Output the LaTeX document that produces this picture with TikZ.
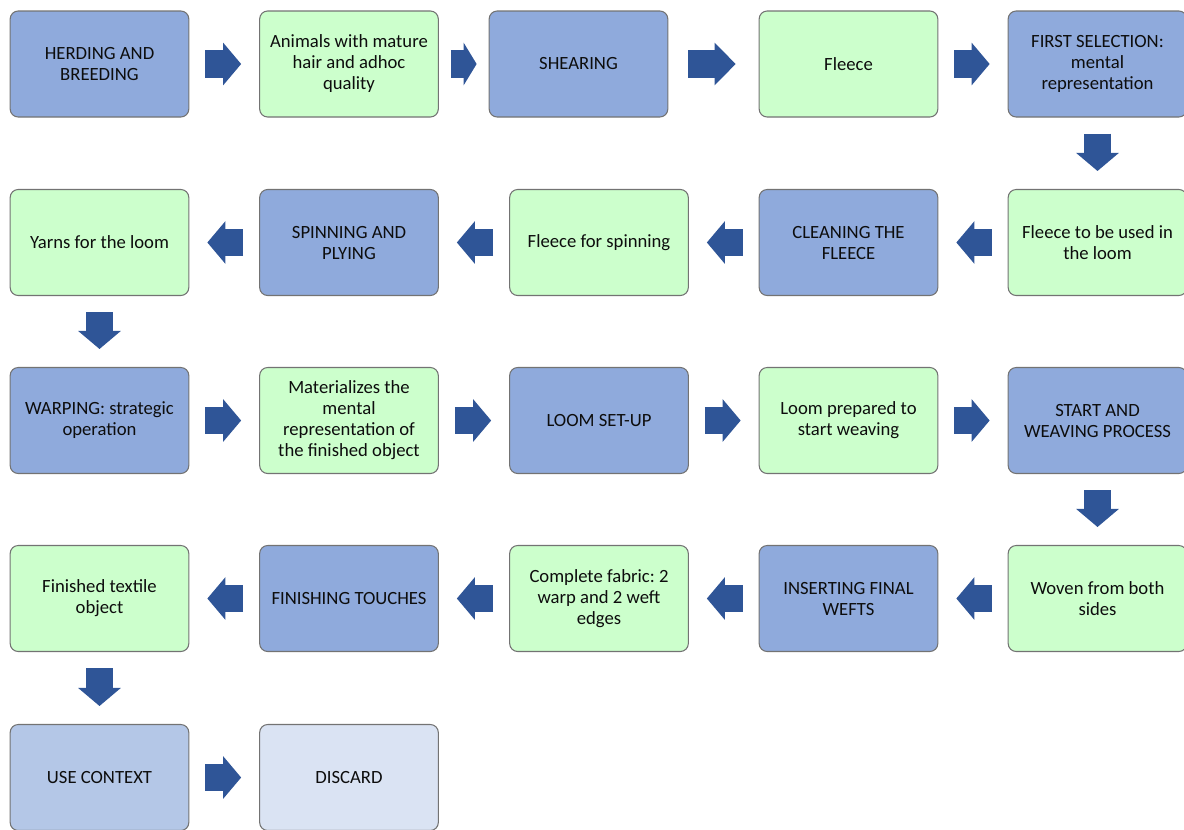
\documentclass[tikz,border=0pt]{standalone}
\usepackage{fontspec}
\setmainfont{Carlito}
\usetikzlibrary{arrows.meta}
\frenchspacing

\definecolor{stageblue}{HTML}{8FAADC}
\definecolor{productgreen}{HTML}{CCFFCC}
\definecolor{contextblue}{HTML}{B4C7E7}
\definecolor{discardblue}{HTML}{DAE3F3}
\definecolor{flowblue}{HTML}{2F5597}

\begin{document}
\begin{tikzpicture}[x=0.75pt, y=-0.75pt,
  box/.style={draw=black!55, line width=0.8pt, rounded corners=6pt,
    minimum width=134pt, minimum height=79.5pt, inner sep=2pt, align=center,
    font=\fontsize{14}{15.75}\selectfont, text=black!95},
  stage/.style={box, fill=stageblue},
  product/.style={box, fill=productgreen},
  flow/.style={draw=flowblue, line width=20.5pt,
    -{Triangle[length=13.5pt, width=32pt, line width=0pt]},
    shorten <=12pt, shorten >=13.5pt}]

  \useasboundingbox (0,0) rectangle (1184,829);

  % Row 1: from the herd to the first selection
  \node[stage]   (herding)   at (99.5, 64)   {HERDING AND\\BREEDING};
  \node[product] (animals)   at (349, 64)    {Animals with mature\\hair and adhoc\\quality};
  \node[stage]   (shearing)  at (578.5, 64)  {SHEARING};
  \node[product] (fleece)    at (848.5, 64)  {Fleece};
  \node[stage]   (selection) at (1097.5, 64) {FIRST SELECTION:\\mental\\representation};

  % Row 2: cleaning and spinning (right to left)
  \node[product] (fleeceloom) at (1097.5, 242.5) {Fleece to be used in\\the loom};
  \node[stage]   (cleaning)   at (848.5, 242.5)  {CLEANING THE\\FLEECE};
  \node[product] (fleecespin) at (599, 242.5)    {Fleece for spinning};
  \node[stage]   (spinning)   at (349, 242.5)    {SPINNING AND\\PLYING};
  \node[product] (yarns)      at (99.5, 242.5)   {Yarns for the loom};

  % Row 3: warping and loom set-up
  \node[stage]   (warping)      at (99.5, 420.5)   {WARPING: strategic\\operation};
  \node[product] (materializes) at (349, 420.5)    {Materializes the\\mental\\representation of\\the finished object};
  \node[stage]   (loomsetup)    at (599, 420.5)    {LOOM SET-UP};
  \node[product] (loomready)    at (848.5, 420.5)  {Loom prepared to\\start weaving};
  \node[stage]   (weaving)      at (1097.5, 420.5) {START AND\\WEAVING PROCESS};

  % Row 4: weaving to the finished object (right to left)
  \node[product] (woven)     at (1097.5, 598.5) {Woven from both\\sides};
  \node[stage]   (wefts)     at (848.5, 598.5)  {INSERTING FINAL\\WEFTS};
  \node[product] (fabric)    at (599, 598.5)    {Complete fabric: 2\\warp and 2 weft\\edges};
  \node[stage]   (finishing) at (349, 598.5)    {FINISHING TOUCHES};
  \node[product] (finished)  at (99.5, 598.5)   {Finished textile\\object};

  % Row 5: use and discard
  \node[box, fill=contextblue] (usecontext) at (99.5, 777.5) {USE CONTEXT};
  \node[box, fill=discardblue] (discard)    at (349, 777.5)  {DISCARD};

  % Block arrows
  \draw[flow] (herding) -- (animals);
  \draw[flow, shorten <=9pt, shorten >=9pt,
    -{Triangle[length=9.75pt, width=32pt, line width=0pt]}] (animals) -- (shearing);
  \draw[flow, shorten <=15pt, shorten >=17.25pt,
    -{Triangle[length=15.75pt, width=32pt, line width=0pt]}] (shearing) -- (fleece);
  \draw[flow] (fleece) -- (selection);
  \draw[flow] (selection) -- (fleeceloom);

  \draw[flow] (fleeceloom) -- (cleaning);
  \draw[flow] (cleaning) -- (fleecespin);
  \draw[flow] (fleecespin) -- (spinning);
  \draw[flow] (spinning) -- (yarns);
  \draw[flow] (yarns) -- (warping);

  \draw[flow] (warping) -- (materializes);
  \draw[flow] (materializes) -- (loomsetup);
  \draw[flow] (loomsetup) -- (loomready);
  \draw[flow] (loomready) -- (weaving);
  \draw[flow] (weaving) -- (woven);

  \draw[flow] (woven) -- (wefts);
  \draw[flow] (wefts) -- (fabric);
  \draw[flow] (fabric) -- (finishing);
  \draw[flow] (finishing) -- (finished);
  \draw[flow] (finished) -- (usecontext);

  \draw[flow] (usecontext) -- (discard);

\end{tikzpicture}
\end{document}
